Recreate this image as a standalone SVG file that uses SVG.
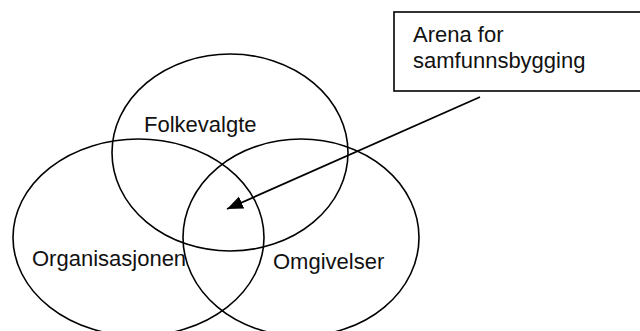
<svg xmlns="http://www.w3.org/2000/svg" width="640" height="331" viewBox="0 0 640 331">
<style>
.shape{fill:none;stroke:#000;stroke-width:1.6}
.lbl{font-family:"Liberation Sans",Arial,sans-serif;font-size:22px;fill:#111}
</style>
<defs>
<marker id="arr" markerUnits="userSpaceOnUse" markerWidth="18" markerHeight="14" refX="16" refY="6.5" orient="auto">
<path d="M0,0 L16,6.5 L0,13 Z" fill="#000"/>
</marker>
</defs>
<rect width="640" height="331" fill="#fff"/>
<g id="node-folkevalgte">
<ellipse class="shape" cx="230" cy="152.5" rx="118" ry="98.5"/>
<text class="lbl" x="144" y="132">Folkevalgte</text>
</g>
<g id="node-organisasjonen">
<ellipse class="shape" cx="138.5" cy="237.5" rx="125.5" ry="98.5"/>
<text class="lbl" x="32" y="266">Organisasjonen</text>
</g>
<g id="node-omgivelser">
<ellipse class="shape" cx="301" cy="237.5" rx="118" ry="98.5"/>
<text class="lbl" x="273" y="269">Omgivelser</text>
</g>
<g id="node-arena">
<rect class="shape" x="394" y="12" width="260" height="79"/>
<text class="lbl" x="413" y="42">Arena for</text>
<text class="lbl" x="413" y="67.5">samfunnsbygging</text>
</g>
<g id="connectors">
<line x1="480" y1="97" x2="227" y2="209" stroke="#000" stroke-width="1.8" marker-end="url(#arr)"/>
</g>
</svg>
